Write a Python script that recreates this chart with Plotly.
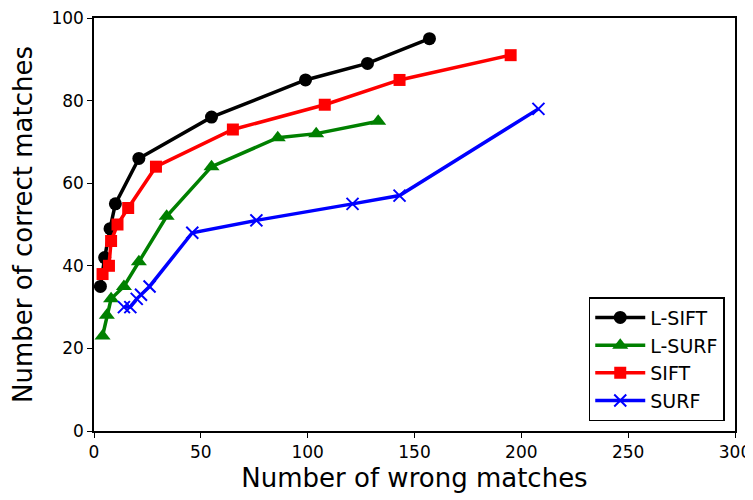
import plotly.graph_objects as go

lsift_x = [3, 5, 7.5, 10, 21, 55, 99, 128, 157]
lsift_y = [35, 42, 49, 55, 66, 76, 85, 89, 95]

lsurf_x = [4, 6, 8, 14, 21, 34, 55, 86, 104, 133]
lsurf_y = [23, 28, 32, 35, 41, 52, 64, 71, 72, 75]

sift_x = [4, 7, 8, 11, 16, 29, 65, 108, 143, 195]
sift_y = [38, 40, 46, 50, 54, 64, 73, 79, 85, 91]

surf_x = [14, 17, 20, 22, 26, 46, 76, 121, 143, 208]
surf_y = [30, 30, 32, 33, 35, 48, 51, 55, 57, 78]

series = [
    ("L-SIFT", lsift_x, lsift_y, "black", "circle", 13),
    ("L-SURF", lsurf_x, lsurf_y, "green", "triangle-up", 14),
    ("SIFT", sift_x, sift_y, "red", "square", 12),
    ("SURF", surf_x, surf_y, "blue", "x-thin", 12),
]

fig = go.Figure()
for name, xs, ys, col, sym, size in series:
    marker = dict(color=col, symbol=sym, size=size)
    if sym == "x-thin":
        marker["line"] = dict(color=col, width=2)
    fig.add_trace(go.Scatter(
        x=xs, y=ys, name=name, mode="lines+markers",
        line=dict(color=col, width=3.5), marker=marker,
    ))

font = "DejaVu Sans, sans-serif"
# page body has an 8px margin, so the figure is sized/offset to compensate
fig.update_layout(
    width=745, height=492,
    margin=dict(l=86, r=18, t=10, b=69),
    paper_bgcolor="white", plot_bgcolor="white",
    font=dict(family=font, color="black", size=17),
    showlegend=True,
    legend=dict(
        x=0.984, y=0.024, xanchor="right", yanchor="bottom",
        bordercolor="black", borderwidth=1.5, bgcolor="white",
        font=dict(size=19), itemwidth=50,
    ),
    xaxis=dict(
        range=[0, 300], tickvals=[0, 50, 100, 150, 200, 250, 300],
        showgrid=False, zeroline=False, showline=True, linecolor="black",
        linewidth=1.5, mirror=True, ticks="outside", ticklen=5,
        tickcolor="black", tickfont=dict(size=17), automargin="bottom",
        ticklabeloverflow="allow",
        title=dict(text="Number of wrong matches", font=dict(size=26), standoff=8),
    ),
    yaxis=dict(
        range=[0, 100], tickvals=[0, 20, 40, 60, 80, 100],
        showgrid=False, zeroline=False, showline=True, linecolor="black",
        linewidth=1.5, mirror=True, ticks="outside", ticklen=5,
        tickcolor="black", tickfont=dict(size=17), automargin="left",
        ticklabeloverflow="allow",
        title=dict(text="Number of correct matches", font=dict(size=26), standoff=15),
    ),
)

fig.write_html("out.html")
